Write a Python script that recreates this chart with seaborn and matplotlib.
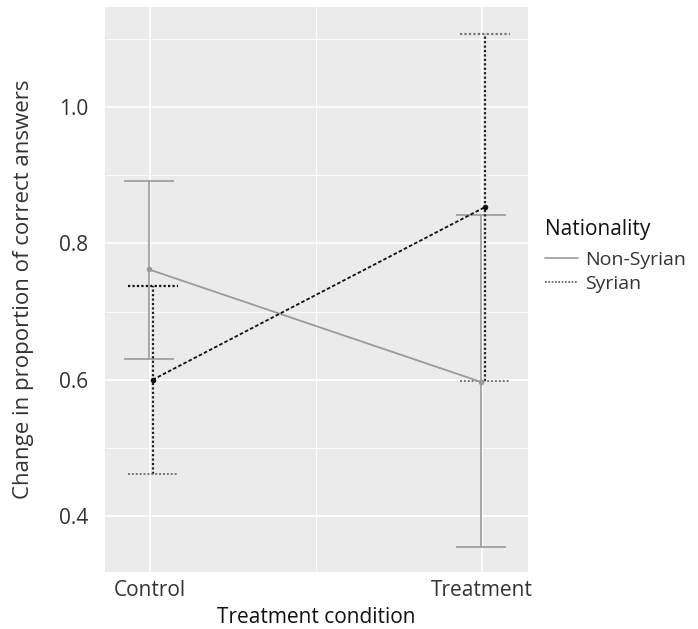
import numpy as np
import pandas as pd
import matplotlib
matplotlib.use("Agg")
import matplotlib.pyplot as plt
import seaborn as sns
from matplotlib.lines import Line2D
from matplotlib.ticker import MultipleLocator

# values
conditions = ["Control", "Treatment"]
nationalities = ["Non-Syrian", "Syrian"]
nonsyrian_mean = [0.762, 0.597]
nonsyrian_lo = [0.630, 0.355]
nonsyrian_hi = [0.892, 0.842]
syrian_mean = [0.600, 0.853]
syrian_lo = [0.462, 0.598]
syrian_hi = [0.737, 1.107]

sns.set_theme(style="darkgrid")
plt.rcParams["font.family"] = ["Open Sans", "DejaVu Sans"]

df = pd.DataFrame({
    "cond": [0, 1, 0, 1],
    "Nationality": [nationalities[0]] * 2 + [nationalities[1]] * 2,
    "mean": nonsyrian_mean + syrian_mean,
    "lo": nonsyrian_lo + syrian_lo,
    "hi": nonsyrian_hi + syrian_hi,
})
dodge = {"Non-Syrian": -0.004, "Syrian": 0.008}
df["x"] = df["cond"] + df["Nationality"].map(dodge)

fig = plt.figure(figsize=(6.98, 6.29), dpi=100)
ax = fig.add_axes([0.1504, 0.0906, 0.606, 0.898])
ax.set_facecolor("#EBEBEB")

grey = "#9a9a9a"
cap = 0.075
# error bars
ns = df[df["Nationality"] == "Non-Syrian"]
sy = df[df["Nationality"] == "Syrian"]
ax.vlines(ns["x"], ns["lo"], ns["hi"], color=grey, lw=1.2, zorder=3)
ax.hlines(ns["lo"], ns["x"] - cap, ns["x"] + cap, color=grey, lw=1.2, zorder=3)
ax.hlines(ns["hi"], ns["x"] - cap, ns["x"] + cap, color=grey, lw=1.2, zorder=3)
ax.vlines(sy["x"], sy["lo"], sy["hi"], color="#222222", lw=1.6,
          linestyles=[(0, (1, 1))], zorder=3)
ax.hlines(sy["lo"], sy["x"] - cap, sy["x"] + cap, color="#777777", lw=1.4,
          linestyles=[(0, (1, 1))], zorder=3)
ax.hlines(sy["hi"], sy["x"] - cap, sy["x"] + cap, color=["#111111", "#777777"],
          lw=1.6, linestyles=[(0, (1, 1))], zorder=3)

# means and connecting lines
sns.lineplot(data=df, x="x", y="mean", hue="Nationality", style="Nationality",
             palette={"Non-Syrian": grey, "Syrian": "#111111"},
             dashes={"Non-Syrian": "", "Syrian": (2, 1.2)},
             markers={"Non-Syrian": "o", "Syrian": "o"}, markersize=4,
             markeredgewidth=0, lw=1.3, legend=False, ax=ax, zorder=4)

ax.set_xlim(-0.1355, 1.1386)
ax.set_ylim(0.318, 1.1465)
ax.set_xticks([0, 1])
ax.set_xticklabels(conditions)
ax.set_yticks([0.4, 0.6, 0.8, 1.0])
ax.set_yticklabels(["0.4", "0.6", "0.8", "1.0"])
ax.xaxis.set_minor_locator(MultipleLocator(0.5))
ax.yaxis.set_minor_locator(MultipleLocator(0.1))
ax.grid(which="major", color="white", lw=1.2)
ax.grid(which="minor", color="white", lw=0.6)
ax.tick_params(axis="both", which="major", length=3, width=1, color="#333333",
               labelsize=15, labelcolor="#333333")
ax.tick_params(axis="y", pad=9)
ax.tick_params(axis="x", pad=3)
ax.tick_params(which="minor", length=0)
for s in ax.spines.values():
    s.set_visible(False)
ax.set_xlabel("Treatment condition", fontsize=15, color="#111111")
ax.set_ylabel("Change in proportion of correct answers", fontsize=16,
              color="#333333")
ax.xaxis.set_label_coords(0.5, -0.062)
ax.yaxis.set_label_coords(-0.168, 0.5)

fig.text(545 / 698, 1 - 229 / 629, "Nationality", fontsize=15, color="#111111",
         va="center", ha="left")
handles = [Line2D([], [], color=grey, lw=1.2),
           Line2D([], [], color="#555555", lw=1.2, ls=(0, (1, 1)))]
leg = fig.legend(handles, nationalities, loc="upper left",
                 bbox_to_anchor=(545 / 698, 1 - 251 / 629), frameon=False,
                 fontsize=14, handlelength=1.7, handletextpad=0.36,
                 labelspacing=0.32, borderaxespad=0, borderpad=0)
for t in leg.get_texts():
    t.set_color("#333333")

fig.savefig("out.png", dpi=100)
